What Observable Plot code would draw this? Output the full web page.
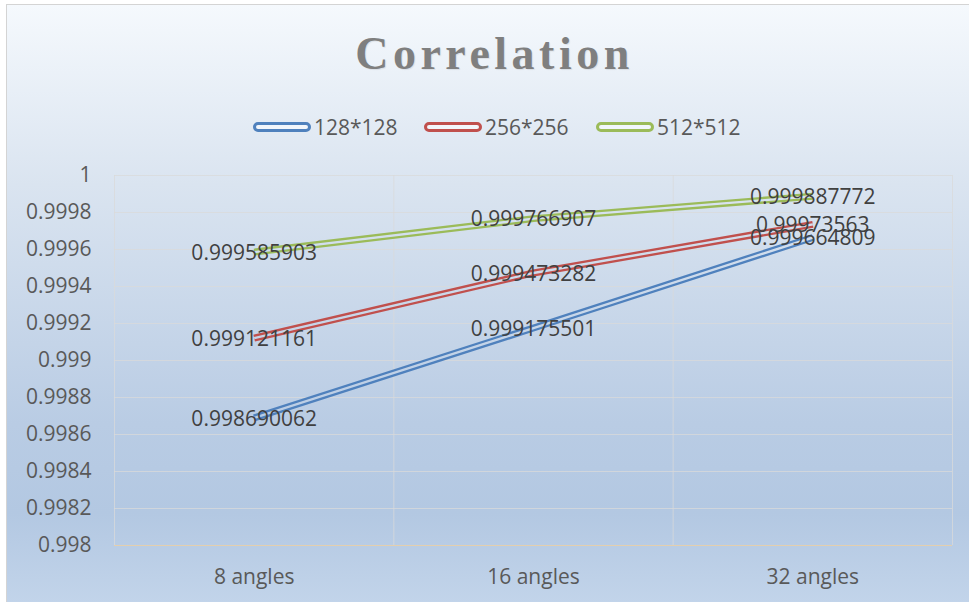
<!DOCTYPE html>
<html>
<head>
<meta charset="utf-8">
<script src="https://cdn.jsdelivr.net/npm/d3@7"></script>
<script src="https://cdn.jsdelivr.net/npm/@observablehq/plot@0.6"></script>
<style>
  html, body { margin: 0; padding: 0; background: #ffffff; }
  #chart {
    position: absolute; left: 6px; top: 4px; width: 963px; height: 598px;
    border-left: 1px solid #d4d4d4; border-top: 1px solid #d4d4d4;
    background: linear-gradient(to bottom, #f5f9fd 0%, #dae4f0 30%, #b9cce4 70%, #b3c8e2 85%, #c2d4ea 100%);
    overflow: hidden;
  }
  #title {
    position: absolute; left: 0; width: 963px; top: 22px; text-align: center;
    font-family: "Liberation Serif", "DejaVu Serif", serif; font-weight: bold;
    font-size: 46px; letter-spacing: 4.5px; color: #7f7f7f; padding-left: 12px; box-sizing: border-box;
    text-shadow: 1px 1px 1px rgba(0,0,0,0.08);
  }
  #legend {
    position: absolute; top: 107px; left: 0; width: 963px; height: 30px;
    font-family: "Open Sans", sans-serif; font-size: 21px; color: #595959;
  }
  .item { position: absolute; top: 0; height: 30px; display: flex; align-items: center; }
  .sw { display: inline-block; width: 52px; height: 4px; border: 3px solid; border-radius: 5px; background: #f2f6fb; margin-right: 3px; }
  #plot { position: absolute; left: 0; top: 146px; }
</style>
</head>
<body>
<div id="chart">
  <div id="title">Correlation</div>
  <div id="legend"></div>
  <div id="plot"></div>
</div>
<script>
const categories = ["8 angles", "16 angles", "32 angles"];
const seriesNames = ["128*128", "256*256", "512*512"];
const values128 = [0.998690062, 0.999175501, 0.999664809];
const values256 = [0.999121161, 0.999473282, 0.99973563];
const values512 = [0.999585903, 0.999766907, 0.999887772];
const labels128 = ["0.998690062", "0.999175501", "0.999664809"];
const labels256 = ["0.999121161", "0.999473282", "0.99973563"];
const labels512 = ["0.999585903", "0.999766907", "0.999887772"];
const yTicks = [0.998, 0.9982, 0.9984, 0.9986, 0.9988, 0.999, 0.9992, 0.9994, 0.9996, 0.9998, 1];
const yTickLabels = ["0.998", "0.9982", "0.9984", "0.9986", "0.9988", "0.999", "0.9992", "0.9994", "0.9996", "0.9998", "1"];
const colors = ["#4f81bd", "#c0504d", "#9bbb59"];

const allValues = [values128, values256, values512];
const allLabels = [labels128, labels256, labels512];
const data = [];
seriesNames.forEach((s, si) => {
  categories.forEach((c, ci) => {
    data.push({series: s, idx: ci, cat: c, value: allValues[si][ci], label: allLabels[si][ci]});
  });
});
const boundaries = d3.range(categories.length + 1).map(i => i - 0.5);

// legend (HTML)
const legendPos = [253, 424, 596];
const legend = document.getElementById("legend");
seriesNames.forEach((s, i) => {
  const it = document.createElement("div");
  it.className = "item";
  it.style.left = (legendPos[i] - 7) + "px";
  const sw = document.createElement("span");
  sw.className = "sw";
  sw.style.borderColor = colors[i];
  it.appendChild(sw);
  it.appendChild(document.createTextNode(s));
  legend.appendChild(it);
});

const SENTINEL = "#012345";
const marks = [
  Plot.ruleY(yTicks, {y: d => d, stroke: "#d9d9d9", strokeOpacity: 0.75}),
  Plot.ruleX(boundaries, {x: d => d, stroke: "#d9d9d9", strokeOpacity: 0.75}),
  Plot.ruleY([0.998], {stroke: "#e4cfae", strokeWidth: 1.2}),
  Plot.axisY({ticks: yTicks, tickSize: 0, tickPadding: 23, tickFormat: (d, i) => yTickLabels[i],
    fontSize: 21, fill: "#595959", label: null}),
  Plot.axisX({ticks: d3.range(categories.length), tickSize: 0, tickPadding: 24,
    tickFormat: d => categories[d], fontSize: 21, fill: "#595959", label: null})
];
seriesNames.forEach((s, i) => {
  const rows = data.filter(d => d.series === s);
  marks.push(Plot.line(rows, {x: "idx", y: "value", stroke: colors[i], strokeWidth: 7, strokeLinecap: "butt", strokeLinejoin: "round"}));
  marks.push(Plot.line(rows, {x: "idx", y: "value", stroke: SENTINEL, strokeWidth: 2.4, strokeLinecap: "butt", strokeLinejoin: "round"}));
});
marks.push(Plot.text(data, {x: "idx", y: "value", text: "label", fontSize: 21, fill: "#404040", textAnchor: "middle", dy: 1}));

const chart = Plot.plot({
  width: 963, height: 452,
  marginLeft: 107, marginRight: 18, marginTop: 24, marginBottom: 58,
  x: {type: "linear", domain: [-0.5, categories.length - 0.5]},
  y: {type: "linear", domain: [0.998, 1]},
  style: {fontFamily: "'Open Sans', sans-serif", background: "transparent", overflow: "visible"},
  marks
});

// background-matching gradient for inner (hollow) part of double lines
const ns = "http://www.w3.org/2000/svg";
const defs = document.createElementNS(ns, "defs");
const grad = document.createElementNS(ns, "linearGradient");
grad.setAttribute("id", "bgGrad");
grad.setAttribute("gradientUnits", "userSpaceOnUse");
grad.setAttribute("x1", "0"); grad.setAttribute("x2", "0");
grad.setAttribute("y1", String(-146)); grad.setAttribute("y2", String(598 - 146));
[[0, "#f5f9fd"], [0.30, "#dae4f0"], [0.70, "#b9cce4"], [0.85, "#b3c8e2"], [1, "#c2d4ea"]].forEach(([o, c]) => {
  const st = document.createElementNS(ns, "stop");
  st.setAttribute("offset", o); st.setAttribute("stop-color", c);
  grad.appendChild(st);
});
defs.appendChild(grad);
chart.insertBefore(defs, chart.firstChild);
chart.querySelectorAll("[stroke='" + SENTINEL + "']").forEach(el => el.setAttribute("stroke", "url(#bgGrad)"));

document.getElementById("plot").appendChild(chart);
</script>
</body>
</html>
